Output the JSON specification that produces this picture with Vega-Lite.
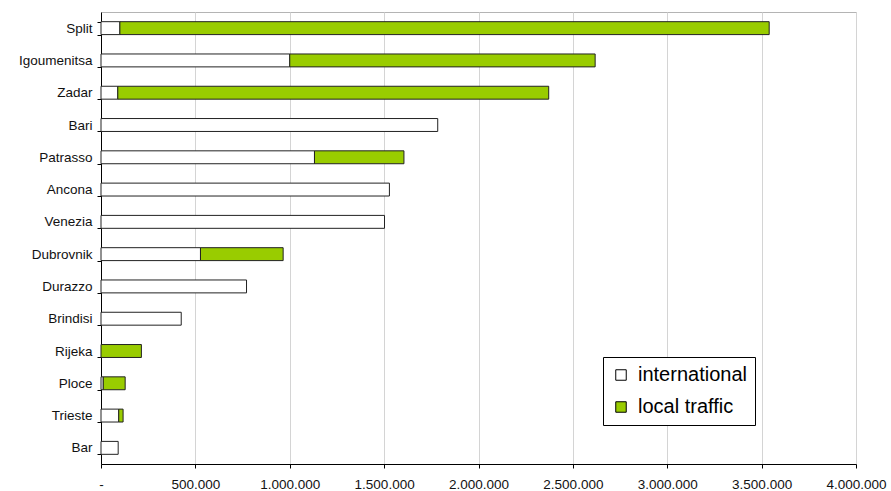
{
  "$schema": "https://vega.github.io/schema/vega-lite/v6.json",
  "autosize": {"type": "none"},
  "width": 755,
  "height": 452,
  "padding": {"left": 101, "top": 12, "right": 35, "bottom": 27},
  "background": "white",
  "config": {
    "font": "Liberation Sans",
    "view": {"stroke": "#b4b4b4", "strokeWidth": 1},
    "locale": {"number": {"decimal": ",", "thousands": ".", "grouping": [3], "currency": ["", ""]}}
  },
  "data": {
    "values": [
      {"port": "Split", "type": "international", "value": 100000},
      {"port": "Split", "type": "local traffic", "value": 3440000},
      {"port": "Igoumenitsa", "type": "international", "value": 1000000},
      {"port": "Igoumenitsa", "type": "local traffic", "value": 1618000},
      {"port": "Zadar", "type": "international", "value": 89000},
      {"port": "Zadar", "type": "local traffic", "value": 2283000},
      {"port": "Bari", "type": "international", "value": 1784000},
      {"port": "Patrasso", "type": "international", "value": 1131000},
      {"port": "Patrasso", "type": "local traffic", "value": 474000},
      {"port": "Ancona", "type": "international", "value": 1528000},
      {"port": "Venezia", "type": "international", "value": 1502000},
      {"port": "Dubrovnik", "type": "international", "value": 527000},
      {"port": "Dubrovnik", "type": "local traffic", "value": 438000},
      {"port": "Durazzo", "type": "international", "value": 771000},
      {"port": "Brindisi", "type": "international", "value": 425000},
      {"port": "Rijeka", "type": "local traffic", "value": 214000},
      {"port": "Ploce", "type": "international", "value": 12000},
      {"port": "Ploce", "type": "local traffic", "value": 116000},
      {"port": "Trieste", "type": "international", "value": 94000},
      {"port": "Trieste", "type": "local traffic", "value": 23000},
      {"port": "Bar", "type": "international", "value": 91000}
    ]
  },
  "mark": {"type": "bar", "stroke": "#222222", "strokeWidth": 1},
  "encoding": {
    "y": {
      "field": "port",
      "type": "nominal",
      "sort": ["Split", "Igoumenitsa", "Zadar", "Bari", "Patrasso", "Ancona", "Venezia", "Dubrovnik", "Durazzo", "Brindisi", "Rijeka", "Ploce", "Trieste", "Bar"],
      "scale": {"paddingInner": 0.6, "paddingOuter": 0.3},
      "axis": {
        "title": null,
        "domainColor": "#000000",
        "tickColor": "#000000",
        "tickSize": 4,
        "tickBand": "extent",
        "labelFontSize": 13.5,
        "labelColor": "#111111",
        "labelPadding": 5,
        "grid": false
      }
    },
    "x": {
      "field": "value",
      "type": "quantitative",
      "stack": "zero",
      "scale": {"domain": [0, 4000000], "nice": false},
      "axis": {
        "title": null,
        "values": [0, 500000, 1000000, 1500000, 2000000, 2500000, 3000000, 3500000, 4000000],
        "format": ",.0f",
        "labelExpr": "datum.value == 0 ? '-' : datum.label",
        "domainColor": "#000000",
        "tickColor": "#000000",
        "tickSize": 4,
        "labelFontSize": 13.5,
        "labelColor": "#111111",
        "labelPadding": 9,
        "labelFlush": false,
        "grid": true,
        "gridColor": "#d4d4d4",
        "gridWidth": 1
      }
    },
    "fill": {
      "field": "type",
      "type": "nominal",
      "scale": {"domain": ["international", "local traffic"], "range": ["#ffffff", "#99cc00"]},
      "legend": {
        "title": null,
        "orient": "none",
        "legendX": 502,
        "legendY": 345,
        "strokeColor": "#000000",
        "fillColor": "#ffffff",
        "padding": 8,
        "symbolType": "square",
        "symbolSize": 110,
        "symbolStrokeColor": "#000000",
        "symbolStrokeWidth": 1,
        "labelFontSize": 20,
        "labelColor": "#000000",
        "labelOffset": 7,
        "rowPadding": 12
      }
    },
    "order": {"field": "type", "sort": "ascending"}
  }
}
